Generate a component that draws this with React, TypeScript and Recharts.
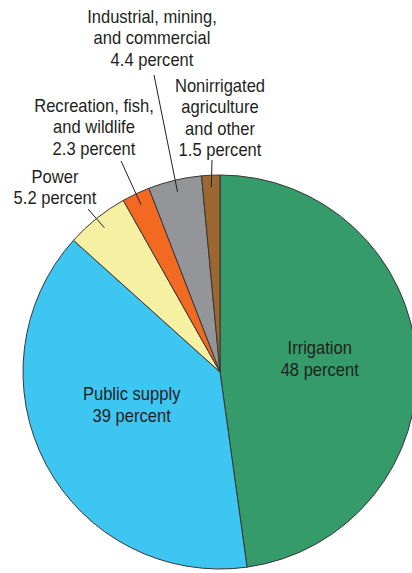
import React from 'react';
import { PieChart, Pie, Cell } from 'recharts';

// Water use shares, clockwise from 12 o'clock
const categories = [
  'Irrigation',
  'Public supply',
  'Power',
  'Recreation, fish, and wildlife',
  'Industrial, mining, and commercial',
  'Nonirrigated agriculture and other',
];
const percents = [48, 39, 5.2, 2.3, 4.4, 1.5];
const labelLines = [
  ['Irrigation'],
  ['Public supply'],
  ['Power'],
  ['Recreation, fish,', 'and wildlife'],
  ['Industrial, mining,', 'and commercial'],
  ['Nonirrigated', 'agriculture', 'and other'],
];

const COLORS = ['#359b6a', '#3ec6f2', '#f6f0a2', '#f26a21', '#939598', '#9c6731'];

const data = categories.map((name, i) => ({ name, value: percents[i], lines: labelLines[i] }));

const FONT = "'Liberation Sans', Arial, sans-serif";
const TEXT = '#231f20';
const LINE_H = 21.5;
const SQUEEZE = 0.92; // condensed look
const RADIAN = Math.PI / 180;

// where each label block sits; outside ones get a leader line into the slice
type Layout =
  | { inside: true; r: number; dy: number }
  | { inside: false; x: number; y: number; lx: number; ly: number };

const LAYOUT: Layout[] = [
  { inside: true, r: 100, dy: -6 },
  { inside: true, r: 100, dy: -14 },
  { inside: false, x: 55, y: 183, lx: 88, ly: 209 },
  { inside: false, x: 94, y: 112, lx: 121, ly: 161 },
  { inside: false, x: 152, y: 23, lx: 154, ly: 75 },
  { inside: false, x: 220, y: 92, lx: 212, ly: 160 },
];

const Block = ({ x, y, lines }: { x: number; y: number; lines: string[] }) => (
  <text
    x={x}
    y={y}
    textAnchor="middle"
    fill={TEXT}
    fontFamily={FONT}
    fontSize={18}
    transform={`translate(${x},0) scale(${SQUEEZE},1) translate(${-x},0)`}
  >
    {lines.map((l, i) => (
      <tspan key={i} x={x} y={y + i * LINE_H}>{l}</tspan>
    ))}
  </text>
);

const renderLabel = (props: any) => {
  const { cx, cy, midAngle, outerRadius, index, payload, value } = props;
  const lay = LAYOUT[index];
  const lines: string[] = [...(payload.lines ?? labelLines[index]), `${value} percent`];
  const cos = Math.cos(-midAngle * RADIAN);
  const sin = Math.sin(-midAngle * RADIAN);

  if (lay.inside) {
    const x = cx + lay.r * cos;
    const y = cy + lay.r * sin + lay.dy;
    const top = y - ((lines.length - 1) * LINE_H) / 2 + 6;
    return <Block key={`lbl-${index}`} x={x} y={top} lines={lines} />;
  }

  const r = outerRadius - 12;
  const px = cx + r * cos;
  const py = cy + r * sin;
  return (
    <g key={`lbl-${index}`}>
      <line x1={lay.lx} y1={lay.ly} x2={px} y2={py} stroke={TEXT} strokeWidth={1} />
      <Block x={lay.x} y={lay.y} lines={lines} />
    </g>
  );
};

export default function App() {
  return (
    <div style={{ position: 'absolute', left: 0, top: 0, width: 412, height: 573, background: '#fff' }}>
      <PieChart width={412} height={573} margin={{ top: 0, right: 0, bottom: 0, left: 0 }}>
        <Pie
          data={data}
          dataKey="value"
          nameKey="name"
          cx={220}
          cy={372}
          outerRadius={197}
          startAngle={90}
          endAngle={-270}
          stroke="#3a3536"
          strokeWidth={1}
          label={renderLabel}
          labelLine={false}
          isAnimationActive={false}
        >
          {data.map((_, i) => (
            <Cell key={`cell-${i}`} fill={COLORS[i]} />
          ))}
        </Pie>
      </PieChart>
    </div>
  );
}
